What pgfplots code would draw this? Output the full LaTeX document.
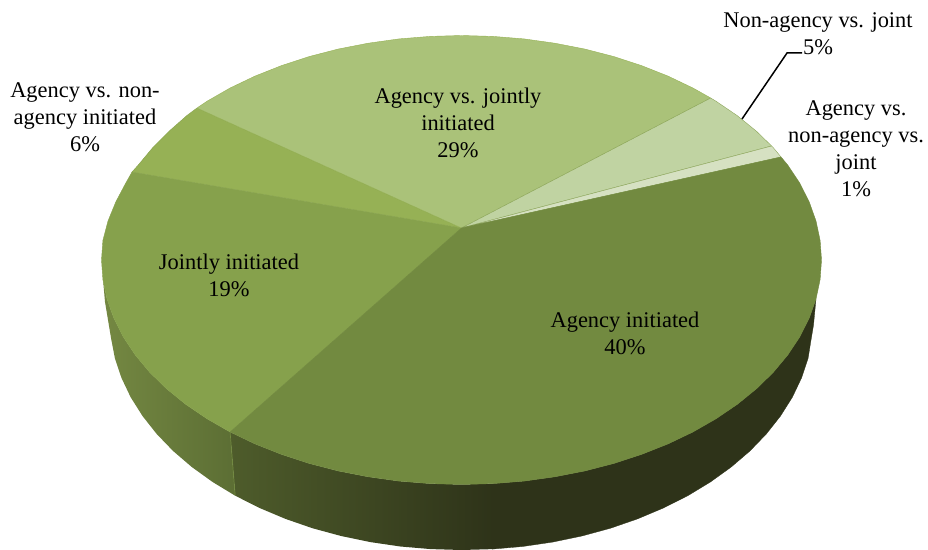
\documentclass[border=0pt]{standalone}
\usepackage{pgfplots}
\pgfplotsset{compat=1.18}
\usepackage{fontspec}
\setmainfont{Liberation Serif}
\definecolor{cAgency}{RGB}{114,138,64}
\definecolor{cJoint}{RGB}{134,161,76}
\definecolor{cNonAg}{RGB}{150,177,85}
\definecolor{cAgJoint}{RGB}{170,194,121}
\definecolor{cNonJoint}{RGB}{192,211,162}
\definecolor{cAll}{RGB}{214,225,194}
\definecolor{edgeA}{RGB}{140,165,90}
\definecolor{sideDark}{RGB}{46,51,25}
\definecolor{sideMid}{RGB}{78,92,43}
\definecolor{sideL}{RGB}{116,136,66}
\definecolor{sideR}{RGB}{92,110,52}
\tikzset{lab/.style={font=\fontsize{22.5}{27}\selectfont, align=center, text=black, inner sep=0pt, anchor=center}}
\begin{document}
\begin{tikzpicture}[x=1bp,y=1bp]
\useasboundingbox (0,0) rectangle (928,550);
\begin{axis}[
  at={(0,0)}, anchor=south west,
  width=928bp, height=550bp, scale only axis,
  xmin=0, xmax=928, ymin=0, ymax=550, y dir=reverse,
  hide axis, clip=false,
  every axis plot/.append style={line join=round}
]
% side wall of the joint slice
\addplot[draw=none, shade, left color=sideL, right color=sideR] coordinates {
(102.9,279.6)(107,299)(113.8,318.1)(123.2,336.8)(135.2,354.9)(149.7,372.3)(166.6,388.8)(185.7,404.3)(206.9,418.7)(230.1,432)
(235.2,495.7)(212.6,482)(191.9,467.1)(173.2,451.1)(156.7,434)(142.5,416)(130.7,397.3)(121.5,378)(114.9,358.3)(111,338)(108,320)(105,302)(103.5,285)
} -- cycle;
% side wall of the agency slice: gradient part, then the dark part
\addplot[draw=none, shade, left color=sideMid, right color=sideDark] coordinates {
(230.1,432)(255,443.9)(281.5,454.4)(309.4,463.5)(338.4,471)(368.3,476.8)(399,481.1)(430.1,483.6)(461.5,484.5)(493.4,483.6)
(493.4,549.1)(461.5,550)(430.8,549.1)(400.4,546.5)(370.4,542.1)(341.1,536)(312.7,528.3)(285.5,518.9)(259.6,508)(235.2,495.7)
} -- cycle;
\addplot[draw=sideDark, fill=sideDark, line width=0.3pt] coordinates {
(492.9,483.6)(524,481.1)(554.7,476.8)(584.6,471)(613.6,463.5)(641.5,454.4)(668,443.9)(692.9,432)(716.1,418.7)(737.3,404.3)(756.4,388.8)(773.3,372.3)(787.8,354.9)(799.8,336.8)(809.2,318.1)(816,299)
(813.5,325)(811,340)(808.1,358.3)(801.5,378)(792.3,397.3)(780.5,416)(766.3,434)(749.8,451.1)(731.1,467.1)(710.4,482)(687.8,495.7)(663.4,508)(637.5,518.9)(610.3,528.3)(581.9,536)(552.6,542.1)(522.6,546.5)(492.2,549.1)
} -- cycle;
% seam between the two side walls
\addplot[draw=cAgency, line width=0.7pt] coordinates {(230.1,432)(235.2,495.7)};
% top faces of the six slices
\addplot[fill=cJoint, draw=cJoint, line width=0.4pt] coordinates {
(461.5,228)(230.1,432)(206.9,418.7)(185.7,404.3)(166.6,388.8)(149.7,372.3)(135.2,354.9)(123.2,336.8)(113.8,318.1)(107,299)(102.9,279.6)(101.5,260)(102.9,240.4)(108,221)(115.8,201.9)(125.7,183.2)(132,172)
} -- cycle;
\addplot[fill=cNonAg, draw=cJoint, line width=0.4pt] coordinates {
(461.5,228)(132,172)(138.2,165.1)(152.7,147.7)(169.1,131.2)(186.7,115.7)(197,108)
} -- cycle;
\addplot[fill=cAgJoint, draw=cNonAg, line width=0.4pt] coordinates {
(461.5,228)(197,108)(206.9,101.3)(230.1,88)(255,76.1)(281.5,65.6)(309.4,56.5)(338.4,49)(368.3,43.2)(399,38.9)(430.1,36.4)(461.5,35.5)(492.9,36.4)(524,38.9)(554.7,43.2)(584.6,49)(613.6,56.5)(641.5,65.6)(668,76.1)(692.9,88)(710.7,98)
} -- cycle;
\addplot[fill=cNonJoint, draw=edgeA, line width=0.4pt] coordinates {
(461.5,228)(710.7,98)(716.1,101.3)(737.3,115.7)(756.4,131.2)(771.6,146)
} -- cycle;
\addplot[fill=cAll, draw=edgeA, line width=0.4pt] coordinates {
(461.5,228)(771.6,146)(773.3,147.7)(781,157)
} -- cycle;
\addplot[fill=cAgency, draw=cAgency, line width=0.4pt] coordinates {
(461.5,228)(781,157)(787.8,165.1)(799.8,183.2)(809.2,201.9)(816,221)(820.1,240.4)(821.5,260)(820.1,279.6)(816,299)(809.2,318.1)(799.8,336.8)(787.8,354.9)(773.3,372.3)(756.4,388.8)(737.3,404.3)(716.1,418.7)(692.9,432)(668,443.9)(641.5,454.4)(613.6,463.5)(584.6,471)(554.7,476.8)(524,481.1)(492.9,483.6)(461.5,484.5)(430.1,483.6)(399,481.1)(368.3,476.8)(338.4,471)(309.4,463.5)(281.5,454.4)(255,443.9)(230.1,432)
} -- cycle;
% leader line of the 5% label
\addplot[draw=black, line width=1.5pt, line join=miter] coordinates {(742,119)(787,53)(802,53)};
% slice labels
\node[lab] at (axis cs:85,117) {Agency vs. non-\\agency initiated\\6\%};
\node[lab] at (axis cs:458,123) {Agency vs. jointly\\initiated\\29\%};
\node[lab] at (axis cs:818,33.5) {Non-agency vs. joint\\5\%};
\node[lab] at (axis cs:856,149) {Agency vs.\\non-agency vs.\\joint\\1\%};
\node[lab] at (axis cs:229,275) {Jointly initiated\\19\%};
\node[lab] at (axis cs:625,333) {Agency initiated\\40\%};
\end{axis}
\end{tikzpicture}
\end{document}
